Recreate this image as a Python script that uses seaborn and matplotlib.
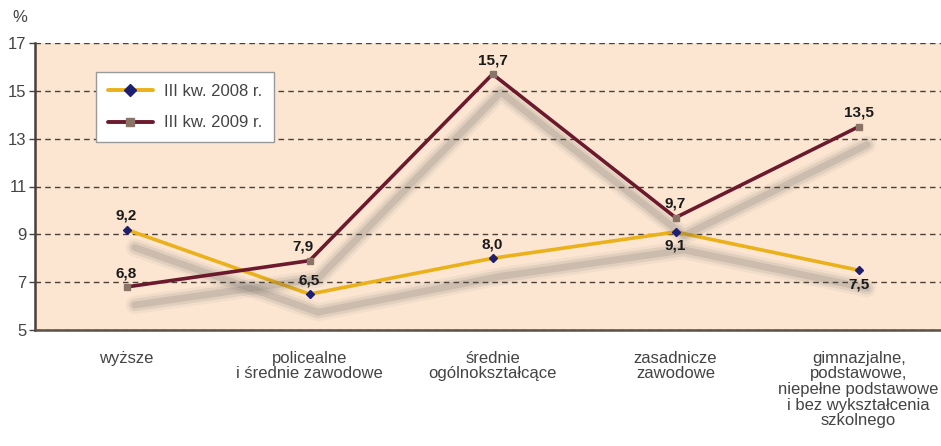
import matplotlib
matplotlib.use("Agg")
import matplotlib.pyplot as plt
import matplotlib.patheffects as pe
import seaborn as sns
import pandas as pd

# dane
categories = ["wyższe", "policealne\ni średnie zawodowe", "średnie\nogólnokształcące",
              "zasadnicze\nzawodowe",
              "gimnazjalne,\npodstawowe,\nniepełne podstawowe\ni bez wykształcenia\nszkolnego"]
values_2008 = [9.2, 6.5, 8.0, 9.1, 7.5]
values_2009 = [6.8, 7.9, 15.7, 9.7, 13.5]
label_2008 = "III kw. 2008 r."
label_2009 = "III kw. 2009 r."
yticks = [5, 7, 9, 11, 13, 15, 17]

# label offsets in points (dx, dy)
off_2008 = [(0, 5), (0, 5), (0, 5), (0, -5), (0, -5)]
off_2009 = [(0, 5), (-5, 5), (0, 5), (0, 5), (0, 5)]

df = pd.DataFrame({
    "pos": list(range(len(categories))) * 2,
    "value": values_2008 + values_2009,
    "series": [label_2008] * 5 + [label_2009] * 5,
})

sns.set_style("white")
plt.rcParams["font.family"] = ["Liberation Sans", "DejaVu Sans"]

fig = plt.figure(figsize=(9.41, 4.46), dpi=100)
ax = fig.add_axes([35 / 941, 1 - 330 / 446, 1 - 35 / 941, (330 - 43) / 446])
ax.set_facecolor("#FCE6D2")

# rozmyty cień pod liniami
shadow = [pe.SimpleLineShadow(offset=(6, -13), shadow_color="#555555", alpha=0.06, linewidth=13),
          pe.SimpleLineShadow(offset=(6, -13), shadow_color="#555555", alpha=0.10, linewidth=9),
          pe.SimpleLineShadow(offset=(6, -13), shadow_color="#555555", alpha=0.15, linewidth=5),
          pe.Normal()]

colors = {label_2008: "#EAB11A", label_2009: "#6A1A2C"}
sns.lineplot(data=df, x="pos", y="value", hue="series", palette=colors,
             linewidth=2.6, ax=ax, legend=False)
for line in ax.lines:
    line.set_path_effects(shadow)

ax.plot(range(5), values_2008, ls="none", marker="D", ms=4, color="#1F1F70", zorder=5)
ax.plot(range(5), values_2009, ls="none", marker="s", ms=5, color="#8A7468", zorder=5)

for i, v in enumerate(values_2008):
    ax.annotate(f"{v:.1f}".replace(".", ","), (i, v), xytext=off_2008[i], textcoords="offset points",
                ha="center", va="bottom" if off_2008[i][1] > 0 else "top",
                fontsize=11, fontweight="bold", color="#1A1A1A", zorder=6)
for i, v in enumerate(values_2009):
    ax.annotate(f"{v:.1f}".replace(".", ","), (i, v), xytext=off_2009[i], textcoords="offset points",
                ha="center", va="bottom", fontsize=11, fontweight="bold", color="#1A1A1A", zorder=6)

ax.set_xlim(-0.5, 4.45)
ax.set_ylim(5, 17)
ax.set_yticks(yticks)
ax.set_xticks(range(5))
ax.set_xticklabels(categories, fontsize=12, color="#444444", linespacing=1.05)
ax.tick_params(axis="y", labelsize=12, colors="#444444", length=4, width=1, direction="out", left=True, pad=2)
ax.tick_params(axis="x", length=0, pad=15)
ax.set_xlabel("")
ax.set_ylabel("")
ax.grid(axis="y", linestyle=(0, (4, 3)), color="#4A4038", linewidth=1)
ax.grid(axis="x", visible=False)
for s in ["top", "right"]:
    ax.spines[s].set_visible(False)
ax.spines["left"].set_color("#4A3E36")
ax.spines["left"].set_linewidth(1.8)
ax.spines["bottom"].set_color("#5A5048")
ax.spines["bottom"].set_linewidth(1.8)

# legenda
h1, = ax.plot([], [], color=colors[label_2008], lw=2.8, marker="D", ms=6, mfc="#1F1F70", mec="#1F1F70")
h2, = ax.plot([], [], color=colors[label_2009], lw=2.8, marker="s", ms=6, mfc="#8A7468", mec="#8A7468")
leg = ax.legend([h1, h2], [label_2008, label_2009], loc="upper left",
                bbox_to_anchor=(61 / 906, (330 - 72) / 287), fontsize=12,
                frameon=True, fancybox=False, edgecolor="#999999", framealpha=1,
                handlelength=2.7, borderpad=0.7, labelspacing=1.0, handletextpad=0.7,
                borderaxespad=0)
leg.get_frame().set_linewidth(1)
for t in leg.get_texts():
    t.set_color("#444444")

fig.text(12 / 941, 1 - 18 / 446, "%", fontsize=12, color="#444444", va="center")

fig.savefig("out.png", dpi=100)
